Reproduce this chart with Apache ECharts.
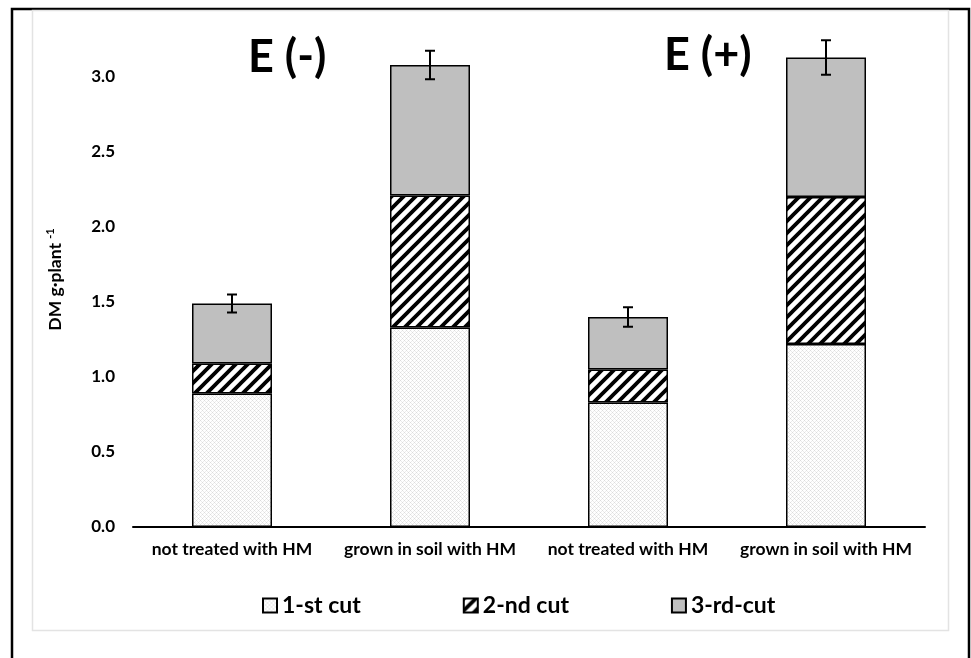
<!DOCTYPE html>
<html>
<head>
<meta charset="utf-8">
<script src="https://cdn.jsdelivr.net/npm/echarts@6/dist/echarts.min.js"></script>
<style>html,body{margin:0;padding:0;background:#fff}#c{width:971px;height:658px}</style>
</head>
<body>
<div id="c"></div>
<script>
// ---- data ----
var categories = ['not treated with HM', 'grown in soil with HM', 'not treated with HM', 'grown in soil with HM'];
var seriesNames = ['1-st cut', '2-nd cut', '3-rd-cut'];
var cut1 = [0.89, 1.33, 0.83, 1.22];
var cut2 = [0.20, 0.88, 0.22, 0.98];
var cut3 = [0.40, 0.87, 0.35, 0.93];
var errors = [0.06, 0.095, 0.065, 0.115];
var yTicks = [0, 0.5, 1.0, 1.5, 2.0, 2.5, 3.0];
var panelTitles = ['E (-)', 'E (+)'];

var FONT = 'Lato';

function makeDots() {
  var c = document.createElement('canvas'); c.width = 4; c.height = 4;
  var g = c.getContext('2d');
  g.fillStyle = '#ffffff'; g.fillRect(0, 0, 4, 4);
  g.fillStyle = '#dcdcdc';
  g.fillRect(0, 0, 1, 1); g.fillRect(2, 2, 1, 1);
  g.fillStyle = '#ececec';
  g.fillRect(1, 1, 1, 1); g.fillRect(3, 3, 1, 1); g.fillRect(1, 3, 1, 1); g.fillRect(3, 1, 1, 1);
  return c;
}
function makeStripes() {
  var s = 12;
  var c = document.createElement('canvas'); c.width = s; c.height = s;
  var g = c.getContext('2d');
  g.fillStyle = '#ffffff'; g.fillRect(0, 0, s, s);
  g.strokeStyle = '#000000'; g.lineWidth = 3.8;
  g.beginPath();
  g.moveTo(-s, 2 * s); g.lineTo(2 * s, -s);   // x+y = s
  g.moveTo(-s, s); g.lineTo(s, -s);           // x+y = 0
  g.moveTo(0, 2 * s); g.lineTo(2 * s, 0);     // x+y = 2s
  g.stroke();
  return c;
}
var dotPattern = { image: makeDots(), repeat: 'repeat' };
var stripePattern = { image: makeStripes(), repeat: 'repeat' };

var totals = cut1.map(function (v, i) { return v + cut2[i] + cut3[i]; });
var errData = totals.map(function (t, i) { return [i, t - errors[i], t + errors[i]]; });

var chart = echarts.init(document.getElementById('c'), null, { renderer: 'canvas' });

var barStyle = function (color) {
  return { color: color, borderColor: '#000', borderWidth: 1.5 };
};

chart.setOption({
  animation: false,
  backgroundColor: '#fff',
  title: [
    { text: panelTitles[0], left: 243, top: 30, textStyle: { fontFamily: FONT, fontWeight: 'bold', fontSize: 45, color: '#000' } },
    { text: panelTitles[1], left: 659, top: 28, textStyle: { fontFamily: FONT, fontWeight: 'bold', fontSize: 45, color: '#000' } }
  ],
  graphic: [
    { type: 'rect', shape: { x: 12, y: 9, width: 957, height: 700 }, style: { fill: 'none', stroke: '#000', lineWidth: 2.5 }, silent: true, z: -10 },
    { type: 'rect', shape: { x: 32.5, y: 10.5, width: 916, height: 620 }, style: { fill: 'none', stroke: '#e3e3e3', lineWidth: 1.5 }, silent: true, z: -10 }
  ],
  legend: {
    left: 257, top: 589,
    itemWidth: 14, itemHeight: 14, itemGap: 102,
    icon: 'rect',
    textStyle: { fontFamily: FONT, fontWeight: 'bold', fontSize: 23, color: '#000' },
    data: seriesNames
  },
  grid: { left: 133, right: 46, top: 32, bottom: 131 },
  xAxis: {
    type: 'category',
    data: categories,
    axisLine: { lineStyle: { color: '#000', width: 2 } },
    axisTick: { show: false },
    axisLabel: { fontFamily: FONT, fontWeight: 'bold', fontSize: 17.5, color: '#000', margin: 13, interval: 0 }
  },
  yAxis: {
    type: 'value',
    min: 0, max: 3.3, interval: 0.5,
    name: '{a|DM g·plant }{s|-1}',
    nameLocation: 'middle', nameGap: 68, nameRotate: 90,
    nameTextStyle: {
      rich: {
        a: { fontFamily: FONT, fontWeight: 'bold', fontSize: 17.5, color: '#000' },
        s: { fontFamily: FONT, fontWeight: 'bold', fontSize: 11, color: '#000', verticalAlign: 'top', padding: [0, 0, 9, 0] }
      }
    },
    axisLine: { show: false },
    axisTick: { show: false },
    splitLine: { show: false },
    axisLabel: {
      showMaxLabel: false,
      fontFamily: FONT, fontWeight: 'bold', fontSize: 17, color: '#000', margin: 18,
      formatter: function (v) { return yTicks.indexOf(v) >= 0 ? v.toFixed(1) : ''; }
    }
  },
  series: [
    { name: seriesNames[0], type: 'bar', stack: 't', barWidth: 80, data: cut1, itemStyle: barStyle(dotPattern) },
    { name: seriesNames[1], type: 'bar', stack: 't', barWidth: 80, data: cut2, itemStyle: barStyle(stripePattern) },
    { name: seriesNames[2], type: 'bar', stack: 't', barWidth: 80, data: cut3, itemStyle: barStyle('#bfbfbf') },
    {
      type: 'custom', name: 'err', data: errData, z: 10,
      renderItem: function (params, api) {
        var lo = api.coord([api.value(0), api.value(1)]);
        var hi = api.coord([api.value(0), api.value(2)]);
        var w = 5;
        var st = { stroke: '#000', lineWidth: 2 };
        return {
          type: 'group',
          children: [
            { type: 'line', shape: { x1: hi[0], y1: hi[1], x2: lo[0], y2: lo[1] }, style: st },
            { type: 'line', shape: { x1: hi[0] - w, y1: hi[1], x2: hi[0] + w, y2: hi[1] }, style: st },
            { type: 'line', shape: { x1: lo[0] - w, y1: lo[1], x2: lo[0] + w, y2: lo[1] }, style: st }
          ]
        };
      }
    }
  ]
});
</script>
</body>
</html>
